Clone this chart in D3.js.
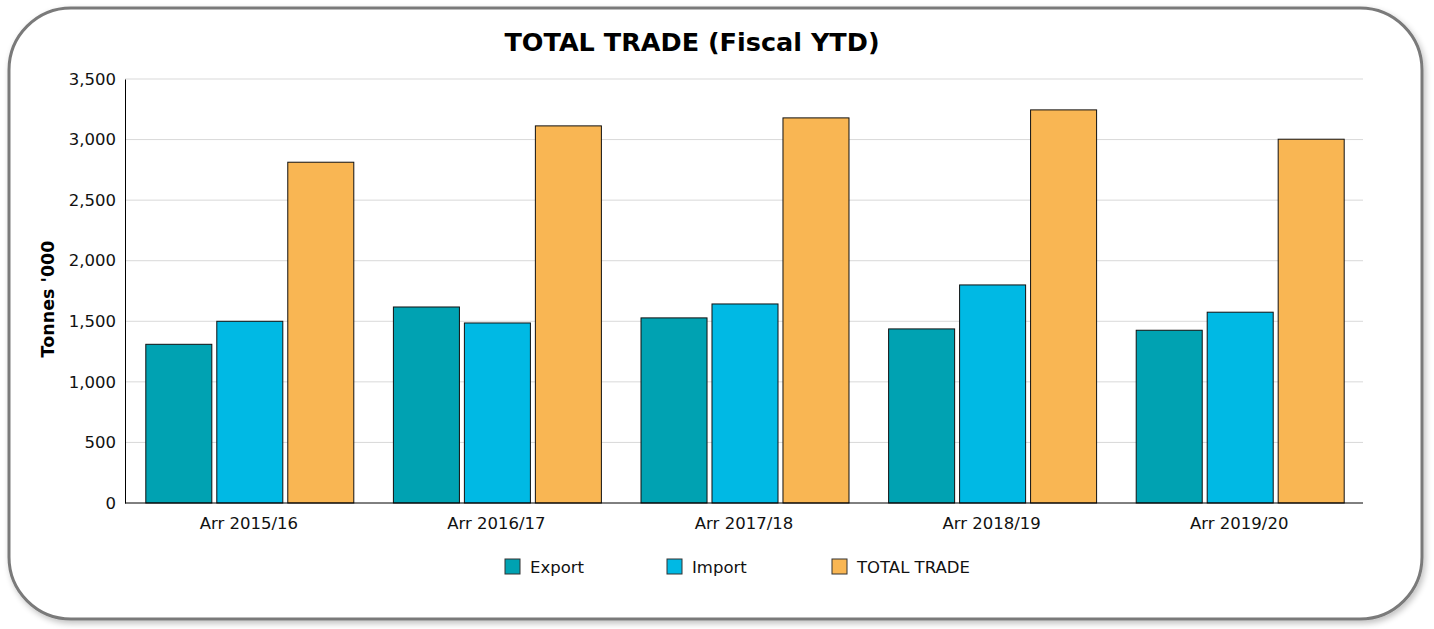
<!DOCTYPE html>
<html>
<head>
<meta charset="utf-8">
<script src="https://cdn.jsdelivr.net/npm/d3@7"></script>
<style>
  body { margin: 0; background: #fff; }
  svg { display: block; font-family: "DejaVu Sans", sans-serif; }
</style>
</head>
<body>
<div id="chart"></div>
<script>
// chart values
const categories = ["Arr 2015/16", "Arr 2016/17", "Arr 2017/18", "Arr 2018/19", "Arr 2019/20"];
const seriesNames = ["Export", "Import", "TOTAL TRADE"];
const exportVals = [1310, 1618, 1528, 1437, 1426];
const importVals = [1500, 1486, 1643, 1800, 1575];
const totalVals = [2813, 3113, 3179, 3245, 3003];
const yTicks = [0, 500, 1000, 1500, 2000, 2500, 3000, 3500];
const colors = ["#00a2b2", "#00b9e4", "#f9b653"];

const width = 1434, height = 629;
const margin = { top: 79, right: 71, bottom: 126, left: 125 };

const svg = d3.select("#chart").append("svg")
    .attr("width", width)
    .attr("height", height);

// soft shadow for the rounded frame
const defs = svg.append("defs");
const f = defs.append("filter").attr("id", "shadow")
    .attr("x", "-5%").attr("y", "-5%").attr("width", "110%").attr("height", "110%");
f.append("feGaussianBlur").attr("in", "SourceAlpha").attr("stdDeviation", 3);
f.append("feOffset").attr("dx", 2).attr("dy", 3).attr("result", "b");
f.append("feComponentTransfer").append("feFuncA").attr("type", "linear").attr("slope", 0.25);
const m = f.append("feMerge");
m.append("feMergeNode");
m.append("feMergeNode").attr("in", "SourceGraphic");

svg.append("rect")
    .attr("x", 9).attr("y", 8)
    .attr("width", 1413).attr("height", 611)
    .attr("rx", 62).attr("ry", 62)
    .attr("fill", "#fff")
    .attr("stroke", "#7a7a7a")
    .attr("stroke-width", 3)
    .attr("filter", "url(#shadow)");

// title
svg.append("text")
    .attr("x", 692).attr("y", 51)
    .attr("text-anchor", "middle")
    .style("font-size", "25.5px")
    .style("font-weight", "bold")
    .text("TOTAL TRADE (Fiscal YTD)");

const x0 = d3.scaleBand()
    .domain(categories)
    .range([margin.left, width - margin.right])
    .paddingInner(0.16)
    .paddingOuter(0.08);

const x1 = d3.scaleBand()
    .domain(seriesNames)
    .range([0, x0.bandwidth()])
    .paddingInner(0.07);

const y = d3.scaleLinear()
    .domain([0, 3500])
    .range([height - margin.bottom, margin.top]);

// gridlines
svg.append("g")
    .selectAll("line")
    .data(yTicks.slice(1))
    .join("line")
    .attr("x1", margin.left).attr("x2", width - margin.right)
    .attr("y1", d => y(d)).attr("y2", d => y(d))
    .attr("stroke", "#d9d9d9")
    .attr("stroke-width", 1);

// y axis
const yAxis = svg.append("g")
    .attr("transform", `translate(${margin.left},0)`)
    .call(d3.axisLeft(y).tickValues(yTicks).tickFormat(d3.format(",")).tickSize(0).tickPadding(9));
yAxis.select(".domain").attr("stroke", "#000");
yAxis.selectAll("text")
    .style("font-family", "'DejaVu Sans', sans-serif")
    .style("font-size", "16.5px").attr("fill", "#111");

svg.append("text")
    .attr("transform", "translate(54,299) rotate(-90)")
    .attr("text-anchor", "middle")
    .style("font-size", "17.5px")
    .style("font-weight", "bold")
    .text("Tonnes '000");

// bars
const rows = categories.map((c, i) => ({
  cat: c,
  vals: [exportVals[i], importVals[i], totalVals[i]]
}));

svg.append("g")
    .selectAll("g")
    .data(rows)
    .join("g")
    .attr("transform", d => `translate(${x0(d.cat) + 1},0)`)
    .selectAll("rect")
    .data(d => d.vals.map((v, j) => ({ name: seriesNames[j], value: v, j })))
    .join("rect")
    .attr("x", d => x1(d.name))
    .attr("y", d => y(d.value))
    .attr("width", x1.bandwidth())
    .attr("height", d => y(0) - y(d.value))
    .attr("fill", d => colors[d.j])
    .attr("stroke", "#111")
    .attr("stroke-width", 1);

// x axis
const xAxis = svg.append("g")
    .attr("transform", `translate(0,${y(0)})`)
    .call(d3.axisBottom(x0).tickSize(0).tickPadding(14).tickSizeOuter(0));
xAxis.select(".domain").attr("stroke", "#000").attr("d", `M${margin.left},0H${width - margin.right}`);
xAxis.selectAll("text")
    .style("font-family", "'DejaVu Sans', sans-serif")
    .style("font-size", "16.5px").attr("fill", "#111");

// legend
const legendX = [505, 667, 832];
const legend = svg.append("g")
    .selectAll("g")
    .data(seriesNames)
    .join("g")
    .attr("transform", (d, i) => `translate(${legendX[i]},559)`);
legend.append("rect")
    .attr("width", 15).attr("height", 15)
    .attr("fill", (d, i) => colors[i])
    .attr("stroke", "#333");
legend.append("text")
    .attr("x", 25).attr("y", 14)
    .style("font-size", "16.5px")
    .attr("fill", "#111")
    .text(d => d);
</script>
</body>
</html>
